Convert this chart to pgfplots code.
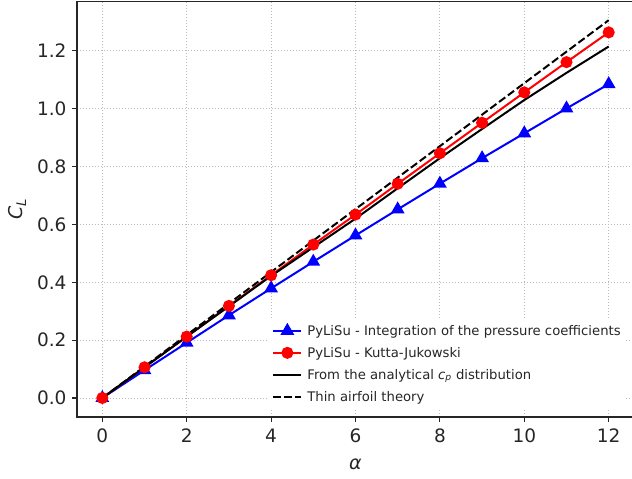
\documentclass[border=0pt]{standalone}
\usepackage{pgfplots}
\pgfplotsset{compat=1.18}
\usepackage{fontspec}
\setmainfont{DejaVu Sans}
\definecolor{txt}{gray}{0.15}
\begin{document}
\begin{tikzpicture}[x=1pt,y=1pt]
\useasboundingbox (-77,-62) rectangle (555,417);
\begin{axis}[
  at={(0,0)}, anchor=south west,
  scale only axis, width=557pt, height=415.3pt,
  xmin=-0.6, xmax=12.6, ymin=-0.0657, ymax=1.370,
  xtick={0,2,...,12}, ytick={0,0.2,0.4,0.6,0.8,1.0,1.2},
  xtick pos=bottom, ytick pos=left,
  yticklabel style={xshift=-2pt, /pgf/number format/.cd, fixed, fixed zerofill, precision=1},
  /pgf/number format/assume math mode=true,
  axis line style={black!85, line width=1.1pt},
  tick align=outside, major tick length=5pt,
  tick style={black!85, line width=1.1pt},
  ticklabel style={font=\fontsize{18.5}{21}\selectfont, text=txt},
  xticklabel style={yshift=-3pt},
  grid=major,
  major grid style={gray!55, line width=0.9pt, dash pattern=on 1.1pt off 1.9pt},
  xlabel={\itshape α}, ylabel={{\itshape C}\textsubscript{\itshape L}},
  label style={font=\fontsize{19}{22}\selectfont, text=txt},
  xlabel style={yshift=-9pt},
  ylabel style={yshift=4pt},
  legend cell align=left,
  legend style={at={(0.345,0.022)}, anchor=south west, fill=white, draw=none,
    font=\fontsize{13.2}{15}\selectfont, text=txt, row sep=6.5pt, column sep=3pt, inner sep=3pt},
  legend image code/.code={\draw[mark repeat=2, mark phase=2, #1] plot coordinates {(0pt,0pt) (14pt,0pt) (28pt,0pt)};},
]
\addplot[blue, line width=2pt, mark=triangle*, mark size=6pt, mark options={solid}] coordinates {
(0,0) (1,0.096) (2,0.191) (3,0.286) (4,0.379) (5,0.471) (6,0.562) (7,0.652) (8,0.741) (9,0.829) (10,0.915) (11,1.001) (12,1.085)};
\addlegendentry{PyLiSu - Integration of the pressure coefficients}
\addplot[red, line width=2pt, mark=*, mark size=5pt] coordinates {
(0,0) (1,0.1062) (2,0.2123) (3,0.3183) (4,0.4244) (5,0.5303) (6,0.634) (7,0.7405) (8,0.846) (9,0.9515) (10,1.0565) (11,1.161) (12,1.264)};
\addlegendentry{PyLiSu - Kutta-Jukowski}
\addplot[black, line width=2pt] coordinates {
(0,0) (1,0.106) (2,0.212) (3,0.317) (4,0.422) (5,0.521) (6,0.620) (7,0.725) (8,0.829) (9,0.930) (10,1.030) (11,1.124) (12,1.215)};
\addlegendentry{From the analytical {\itshape c}\textsubscript{\itshape p} distribution}
\addplot[black, line width=2pt, dash pattern=on 7.7pt off 3.3pt] coordinates {(0,0) (12,1.306)};
\addlegendentry{Thin airfoil theory}
\end{axis}
\end{tikzpicture}
\end{document}
